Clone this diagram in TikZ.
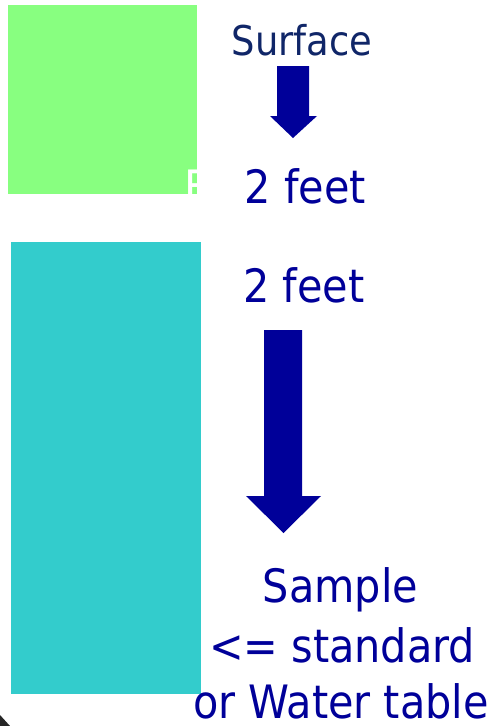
\documentclass[tikz,border=0pt]{standalone}
\usepackage{fontspec}
\setmainfont{DejaVu Sans Condensed}
\definecolor{grass}{RGB}{136,255,128}
\definecolor{water}{RGB}{51,204,204}
\definecolor{ink}{RGB}{0,0,153}
\definecolor{navy}{RGB}{16,38,104}
\tikzset{
  lbl/.style={inner sep=0pt, anchor=base, text=ink, font=\fontsize{46}{55}\selectfont},
  toplbl/.style={lbl, text=navy, font=\fontsize{41}{49}\selectfont},
  block/.style={fill=ink, draw=none},
}
\begin{document}
\begin{tikzpicture}[x=1pt, y=-1pt]
  \useasboundingbox (0,0) rectangle (496,726);
  % soil layers
  \fill[grass] (8,5) rectangle (197,194);
  \fill[water] (11,242) rectangle (201,694);
  % stray white letter at the edge of the top layer
  \node[lbl, anchor=base west, text=white] (stray) at (184,203) {F};
  % depth labels
  \node[toplbl] (surface) at (302,55) {Surface};
  \node[lbl] (d1) at (305.5,203) {2 feet};
  \node[lbl] (d2) at (304,302) {2 feet};
  \node[lbl] (s1) at (340.5,602) {Sample};
  \node[lbl] (s2) at (342,662) {<= standard};
  \node[lbl] (s3) at (341,718) {or Water table};
  % block arrows
  \fill[block] (277,66) -- (309,66) -- (309,116) -- (317,116) -- (293,138)
    -- (270,116) -- (277,116) -- cycle;
  \fill[block] (264,330) -- (302,330) -- (302,496) -- (321,496) -- (283.5,533)
    -- (246,496) -- (264,496) -- cycle;
  % corner mark
  \fill[black!85] (0,715) -- (10,726) -- (0,726) -- cycle;
\end{tikzpicture}
\end{document}
